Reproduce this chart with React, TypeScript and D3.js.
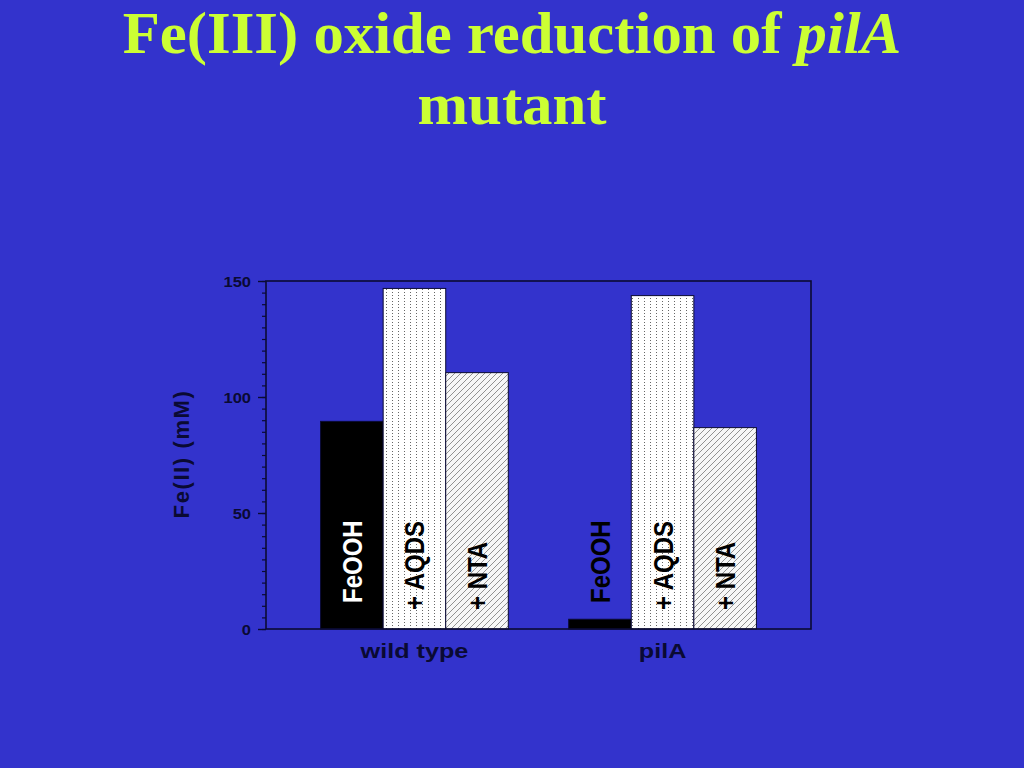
import { useEffect, useRef } from 'react';
import * as d3 from 'd3';

const groups = ['wild type', 'pilA'];
const treatments = ['FeOOH', '+ AQDS', '+ NTA'];
const wildTypeValues = [89.5, 146.8, 110.5];
const pilAValues = [4.2, 143.7, 86.8];
const yTicks = [0, 50, 100, 150];

const W = 1024;
const H = 768;
const BG = '#3333cc';
const INK = '#0a0a33';

const App: React.FC = () => {
  const svgRef = useRef<SVGSVGElement>(null);

  useEffect(() => {
    if (!svgRef.current) return;
    const svg = d3.select(svgRef.current);
    svg.selectAll('*').remove();

    const frame = { left: 266, right: 811, top: 281, bottom: 629 };

    const rows = groups.map((g, i) => ({
      group: g,
      values: i === 0 ? wildTypeValues : pilAValues,
    }));

    const x0 = d3.scaleBand<string>()
      .domain(groups)
      .range([frame.left, frame.right])
      .paddingInner(0.2435)
      .paddingOuter(0.22);

    const x1 = d3.scaleBand<string>()
      .domain(treatments)
      .range([0, x0.bandwidth()])
      .padding(0);

    const y = d3.scaleLinear()
      .domain([0, 150])
      .range([frame.bottom, frame.top]);

    svg.append('rect').attr('width', W).attr('height', H).attr('fill', BG);

    // patterns
    const defs = svg.append('defs');
    const dots = defs.append('pattern')
      .attr('id', 'dots')
      .attr('patternUnits', 'userSpaceOnUse')
      .attr('width', 6)
      .attr('height', 3);
    dots.append('rect').attr('width', 6).attr('height', 3).attr('fill', '#ffffff');
    dots.append('rect').attr('x', 2).attr('y', 1).attr('width', 1).attr('height', 1).attr('fill', '#666666');

    const hatch = defs.append('pattern')
      .attr('id', 'hatch')
      .attr('patternUnits', 'userSpaceOnUse')
      .attr('width', 6)
      .attr('height', 6);
    hatch.append('rect').attr('width', 6).attr('height', 6).attr('fill', '#f7f7f7');
    hatch.append('path')
      .attr('d', 'M0,6 L6,0 M-1,1 L1,-1 M5,7 L7,5')
      .attr('stroke', '#666666')
      .attr('stroke-width', 0.7);

    const fills = ['#000000', 'url(#dots)', 'url(#hatch)'];

    // title
    const title = svg.append('g')
      .attr('font-family', '"Liberation Serif", "Times New Roman", serif')
      .attr('font-weight', 'bold')
      .attr('font-size', 59)
      .attr('fill', '#ccff33')
      .attr('text-anchor', 'middle');
    const t1 = title.append('text').attr('transform', `translate(${W / 2},53) scale(1.03,1)`);
    t1.append('tspan').text('Fe(III) oxide reduction of ');
    t1.append('tspan').attr('font-style', 'italic').text('pilA');
    title.append('text').attr('transform', `translate(${W / 2},124) scale(1.03,1)`).text('mutant');

    // bars
    const g = svg.append('g');
    rows.forEach(row => {
      const gx = x0(row.group) || 0;
      row.values.forEach((v, i) => {
        const t = treatments[i];
        const bx = gx + (x1(t) || 0);
        g.append('rect')
          .attr('x', bx)
          .attr('y', y(v))
          .attr('width', x1.bandwidth())
          .attr('height', y(0) - y(v))
          .attr('fill', fills[i])
          .attr('stroke', INK)
          .attr('stroke-width', 1);
      });
    });

    // bar labels
    const labelOffset = [26, 19, 19];
    rows.forEach(row => {
      const gx = x0(row.group) || 0;
      row.values.forEach((v, i) => {
        const t = treatments[i];
        const cx = gx + (x1(t) || 0) + x1.bandwidth() / 2;
        const ty = y(0) - labelOffset[i];
        const inside = i === 0 && y(0) - y(v) > 120;
        g.append('text')
          .attr('transform', `translate(${cx + 10},${ty}) scale(1.12,1) rotate(-90)`)
          .attr('font-family', '"Liberation Sans", Arial, sans-serif')
          .attr('font-weight', 'bold')
          .attr('font-size', 24)
          .attr('fill', i === 0 ? (inside ? '#ffffff' : '#000000') : '#000000')
          .text(t);
      });
    });

    // frame
    svg.append('rect')
      .attr('x', frame.left)
      .attr('y', frame.top)
      .attr('width', frame.right - frame.left)
      .attr('height', frame.bottom - frame.top)
      .attr('fill', 'none')
      .attr('stroke', INK)
      .attr('stroke-width', 1.6);

    // y axis: minor ticks
    const minor = svg.append('g')
      .attr('transform', `translate(${frame.left},0)`)
      .call(d3.axisLeft(y).tickValues(d3.range(0, 151, 5)).tickSize(4).tickFormat(() => ''));
    minor.select('.domain').remove();
    minor.selectAll('line').attr('stroke', INK).attr('stroke-width', 1.2);

    const major = svg.append('g')
      .attr('transform', `translate(${frame.left},0)`)
      .call(d3.axisLeft(y).tickValues(yTicks).tickSize(8).tickPadding(0).tickFormat(d3.format('d')));
    major.select('.domain').remove();
    major.selectAll('line').attr('stroke', INK).attr('stroke-width', 1.4);
    major.selectAll('text')
      .attr('fill', INK)
      .attr('font-family', '"Liberation Sans", Arial, sans-serif')
      .attr('font-weight', 'bold')
      .attr('font-size', 14)
      .attr('x', null)
      .attr('dy', null)
      .attr('text-anchor', 'end')
      .attr('transform', 'translate(-15,5) scale(1.18,1)');

    // y axis title
    svg.append('text')
      .attr('transform', `translate(189,454) rotate(-90)`)
      .attr('text-anchor', 'middle')
      .attr('font-family', '"Liberation Sans", Arial, sans-serif')
      .attr('font-weight', 'bold')
      .attr('font-size', 22)
      .attr('letter-spacing', 1.6)
      .attr('fill', INK)
      .text('Fe(II) (mM)');

    // group labels
    svg.append('g')
      .selectAll('text')
      .data(groups)
      .join('text')
      .attr('transform', d => `translate(${(x0(d) || 0) + x0.bandwidth() / 2},658) scale(1.2,1)`)
      .attr('text-anchor', 'middle')
      .attr('font-family', '"Liberation Sans", Arial, sans-serif')
      .attr('font-weight', 'bold')
      .attr('font-size', 21)
      .attr('fill', INK)
      .text(d => d);
  }, []);

  return (
    <div style={{ position: 'fixed', left: 0, top: 0, width: W, height: H, background: BG }}>
      <svg ref={svgRef} width={W} height={H} style={{ display: 'block' }} />
    </div>
  );
};

export default App;
